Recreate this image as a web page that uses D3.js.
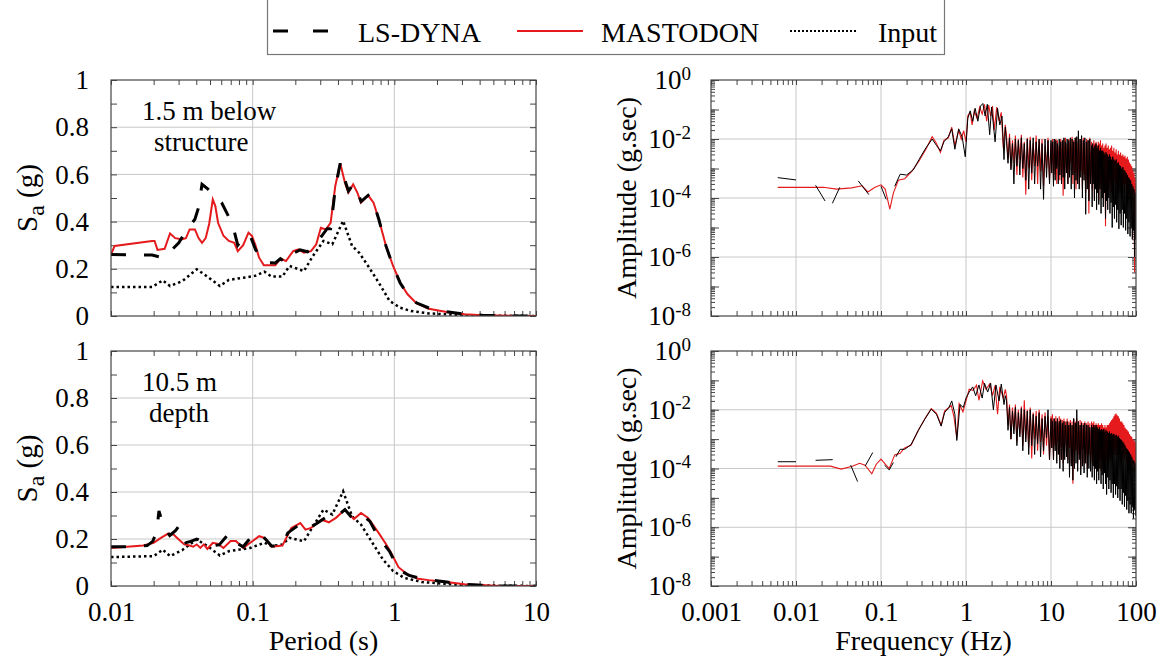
<!DOCTYPE html>
<html><head><meta charset="utf-8">
<script src="https://cdn.jsdelivr.net/npm/d3@7"></script>
<style>
body{margin:0;background:#fff}
svg{display:block}
svg text{font-family:"Liberation Serif","Times New Roman",Times,serif}
</style>
</head><body>
<svg id="c" width="1163" height="662"></svg>
<script>
// ---------- DATA ----------
const seriesNames = ["LS-DYNA", "MASTODON", "Input"];
const periodTicks = [0.01, 0.1, 1, 10];
const periodLabels = ["0.01", "0.1", "1", "10"];
const freqTicks = [0.001, 0.01, 0.1, 1, 10, 100];
const freqLabels = ["0.001", "0.01", "0.1", "1", "10", "100"];
const saTicks = [0, 0.2, 0.4, 0.6, 0.8, 1];
const ampTicks = [1, 1e-2, 1e-4, 1e-6, 1e-8];
const ampExponents = ["0", "-2", "-4", "-6", "-8"];
const periodGrid = [0.1, 1];
const saGrid = [0.2, 0.4, 0.6, 0.8];
const freqGrid = [0.01, 0.1, 1, 10];
const ampGrid = [1e-2, 1e-4, 1e-6];

// Top-left: 1.5 m below structure  [period s, Sa g]
const tlMastodon = [[0.01,0.26],[0.0106,0.297],[0.0195,0.318],[0.0203,0.318],[0.0213,0.28],[0.0239,0.285],[0.0261,0.35],[0.0284,0.33],[0.0301,0.327],[0.0319,0.325],[0.0338,0.33],[0.0359,0.367],[0.0391,0.367],[0.0415,0.33],[0.0439,0.31],[0.0466,0.33],[0.0493,0.39],[0.0523,0.494],[0.0545,0.466],[0.057,0.395],[0.0622,0.34],[0.0679,0.318],[0.0741,0.31],[0.0785,0.275],[0.0857,0.30],[0.0934,0.353],[0.099,0.339],[0.105,0.297],[0.111,0.247],[0.120,0.215],[0.132,0.215],[0.1445,0.215],[0.157,0.243],[0.172,0.233],[0.193,0.275],[0.211,0.282],[0.230,0.268],[0.258,0.275],[0.281,0.304],[0.303,0.374],[0.329,0.367],[0.355,0.395],[0.383,0.551],[0.415,0.647],[0.448,0.565],[0.474,0.523],[0.512,0.558],[0.548,0.523],[0.582,0.48],[0.653,0.511],[0.713,0.48],[0.777,0.41],[0.873,0.297],[0.98,0.212],[1.10,0.141],[1.24,0.092],[1.43,0.054],[1.75,0.031],[2.34,0.017],[3.13,0.007],[4.18,0.003],[7.48,0.0],[10,0.0]];
const tlLsdyna = [[0.01,0.261],[0.0195,0.258],[0.0232,0.247],[0.0268,0.28],[0.0301,0.31],[0.0338,0.36],[0.0391,0.41],[0.0415,0.46],[0.0439,0.558],[0.0479,0.54],[0.0537,0.51],[0.0604,0.48],[0.0719,0.39],[0.0785,0.30],[0.0907,0.345],[0.0962,0.34],[0.105,0.28],[0.125,0.226],[0.1445,0.225],[0.157,0.243],[0.172,0.225],[0.193,0.265],[0.216,0.28],[0.244,0.272],[0.273,0.30],[0.308,0.34],[0.335,0.37],[0.355,0.37],[0.383,0.54],[0.415,0.647],[0.448,0.575],[0.474,0.53],[0.512,0.558],[0.548,0.53],[0.582,0.485],[0.653,0.511],[0.713,0.48],[0.777,0.41],[0.873,0.297],[0.98,0.21],[1.10,0.14],[1.24,0.092],[1.43,0.056],[1.75,0.034],[2.34,0.018],[3.13,0.008],[4.18,0.003],[7.48,0],[10,0]];
const tlInput = [[0.01,0.123],[0.0195,0.123],[0.0232,0.151],[0.0261,0.127],[0.0319,0.148],[0.0403,0.198],[0.0466,0.172],[0.0587,0.127],[0.0679,0.153],[0.0857,0.162],[0.104,0.17],[0.121,0.188],[0.136,0.167],[0.162,0.167],[0.182,0.212],[0.230,0.19],[0.266,0.254],[0.316,0.318],[0.365,0.304],[0.435,0.403],[0.503,0.297],[0.565,0.268],[0.653,0.212],[0.777,0.141],[0.925,0.064],[1.10,0.035],[1.31,0.021],[1.75,0.011],[3.13,0.003],[10,0]];

// Bottom-left: 10.5 m depth
const blMastodon = [[0.01,0.162],[0.0169,0.172],[0.02,0.184],[0.0225,0.205],[0.0253,0.223],[0.0276,0.219],[0.0301,0.198],[0.0329,0.177],[0.0359,0.172],[0.038,0.167],[0.0403,0.177],[0.0427,0.162],[0.0452,0.177],[0.0479,0.158],[0.0523,0.184],[0.057,0.179],[0.0622,0.162],[0.0699,0.191],[0.0762,0.191],[0.0857,0.162],[0.0962,0.184],[0.111,0.212],[0.121,0.205],[0.136,0.167],[0.162,0.172],[0.1875,0.247],[0.217,0.268],[0.236,0.24],[0.258,0.247],[0.307,0.282],[0.345,0.271],[0.387,0.29],[0.448,0.325],[0.518,0.285],[0.582,0.311],[0.653,0.29],[0.777,0.225],[0.87,0.18],[0.95,0.14],[1.07,0.08],[1.24,0.049],[1.47,0.031],[1.75,0.025],[2.34,0.017],[3.13,0.007],[5.6,0.0],[10,0.0]];
const blLsdyna = [[0.01,0.167],[0.013,0.167],[0.018,0.172],[0.0197,0.19],[0.021,0.23],[0.0218,0.32],[0.0235,0.25],[0.026,0.215],[0.0285,0.235],[0.0301,0.255],[0.0318,0.23],[0.0338,0.184],[0.0365,0.19],[0.0403,0.2],[0.0466,0.184],[0.0523,0.172],[0.058,0.175],[0.0679,0.223],[0.0762,0.184],[0.0857,0.167],[0.102,0.223],[0.118,0.212],[0.136,0.17],[0.162,0.172],[0.177,0.226],[0.217,0.264],[0.244,0.243],[0.281,0.265],[0.325,0.29],[0.38,0.29],[0.448,0.325],[0.503,0.29],[0.582,0.307],[0.673,0.275],[0.777,0.205],[0.925,0.148],[1.07,0.07],[1.27,0.045],[1.56,0.031],[2.34,0.017],[3.13,0.007],[5.6,0],[10,0]];
const blInput = [[0.01,0.123],[0.02,0.127],[0.0232,0.155],[0.0261,0.127],[0.0319,0.153],[0.0403,0.198],[0.0479,0.17],[0.0587,0.13],[0.0679,0.148],[0.0962,0.162],[0.121,0.184],[0.136,0.17],[0.162,0.177],[0.182,0.205],[0.230,0.19],[0.258,0.24],[0.316,0.325],[0.365,0.304],[0.435,0.403],[0.503,0.297],[0.582,0.261],[0.70,0.184],[0.83,0.113],[0.98,0.064],[1.17,0.035],[1.56,0.017],[3.13,0.003],[10,0]];

// Fourier amplitude spectra: low-frequency parts [Hz, g.sec] (null = gap)
const trMastodonLow = [[0.0061,2.3e-4],[0.021,2.3e-4],[0.030,2.0e-4],[0.045,2.2e-4],[0.060,2.6e-4],[0.070,1.6e-4],[0.085,2.3e-4],[0.10,2.8e-4],[0.112,2.0e-4],[0.127,4.2e-5],[0.14,1.5e-4],[0.16,4.0e-4],[0.19,4.5e-4],[0.23,8e-4],[0.28,1.8e-3],[0.33,4e-3],[0.40,1.2e-2],[0.45,7e-3],[0.50,3.5e-3],[0.55,9e-3],[0.62,1.1e-2],[0.68,2.5e-2],[0.74,6e-3],[0.82,2.0e-2],[0.88,1.0e-2],[0.94,1.9e-2],[1.0,8e-3],[1.05,6e-2],[1.12,8e-2],[1.18,3e-2],[1.25,9e-2],[1.35,5e-2],[1.45,1.2e-1],[1.55,7e-2],[1.65,1.5e-1],[1.75,4e-2],[1.85,1.4e-1],[1.95,6e-2],[2.05,1.3e-1],[2.15,2e-2],[2.3,1.2e-1],[2.45,4e-2],[2.6,8e-2],[2.75,5e-3],[2.9,3e-2]];
const trLsdynaLow = [[0.0061,4.9e-4],[0.010,4.1e-4],null,[0.017,2.7e-4],[0.022,7.9e-5],null,[0.0268,6.6e-5],[0.0327,2.3e-4],null,[0.054,3.8e-4],[0.072,1.3e-4],null,[0.10,2.5e-4],[0.115,9e-5],null,[0.145,2.5e-4],[0.168,6.4e-4],[0.2,6e-4],[0.24,9e-4],[0.28,2e-3],[0.33,4.5e-3],[0.40,1.0e-2],[0.45,6e-3],[0.50,4e-3],[0.55,8e-3],[0.62,1.2e-2],[0.68,2.2e-2],[0.74,4.5e-3],[0.82,2.2e-2],[0.9,1.2e-2],[0.98,2.5e-3],[1.05,5e-2],[1.12,9e-2],[1.2,4e-2],[1.28,1.1e-1],[1.38,4e-2],[1.48,1.3e-1],[1.58,1.6e-1],[1.68,6e-2],[1.78,1.5e-1],[1.9,1.4e-2],[2.0,1.2e-1],[2.2,8e-3],[2.35,1.1e-1],[2.5,3e-2],[2.65,6e-2],[2.8,2e-3],[2.9,2.5e-2]];
const brMastodonLow = [[0.0061,1.2e-4],[0.0255,1.2e-4],[0.034,9.5e-5],[0.046,1.2e-4],[0.056,1.5e-4],[0.065,1.3e-4],[0.078,6.6e-5],[0.088,1.4e-4],[0.10,2.1e-4],[0.115,1.3e-4],[0.125,1.0e-4],[0.145,2.9e-4],[0.168,3.3e-4],[0.188,4.9e-4],[0.226,6.3e-4],[0.275,2e-3],[0.33,5e-3],[0.39,1.1e-2],[0.45,7.5e-3],[0.51,3e-3],[0.56,9e-3],[0.67,1.4e-2],[0.72,6e-3],[0.78,1.1e-3],[0.83,1.6e-2],[0.92,8.5e-3],[1.0,2e-2],[1.09,5e-2],[1.21,4.6e-2],[1.33,6.8e-2],[1.42,2.1e-2],[1.57,9.6e-2],[1.72,5e-2],[1.91,7.8e-2],[2.05,3e-2],[2.2,6.8e-2],[2.35,7e-3],[2.5,6e-2],[2.75,2.5e-2],[2.9,4.9e-2]];
const brLsdynaLow = [[0.0061,1.7e-4],[0.010,1.7e-4],null,[0.017,1.9e-4],[0.027,2.0e-4],null,[0.044,1.3e-4],[0.053,3.6e-5],null,[0.065,1.2e-4],[0.08,3.5e-4],null,[0.11,1.3e-4],[0.125,9e-5],[0.14,1.6e-4],null,[0.15,2.5e-4],[0.168,4.5e-4],[0.19,4.5e-4],[0.226,6.5e-4],[0.275,2e-3],[0.33,5e-3],[0.39,1.05e-2],[0.45,7e-3],[0.51,2.8e-3],[0.56,8e-3],[0.63,1.2e-2],[0.68,2e-2],[0.74,7e-3],[0.78,9e-4],[0.85,1.5e-2],[0.93,1.2e-2],[1.0,2.5e-2],[1.09,4e-2],[1.2,6e-2],[1.3,3e-2],[1.42,7e-2],[1.55,2.5e-2],[1.65,8e-2],[1.8,4e-2],[1.95,8e-2],[2.1,1e-2],[2.25,7e-2],[2.45,2e-2],[2.6,7.5e-2],[2.8,1.5e-2],[2.9,3e-2]];

// High-frequency (dense) parts: shared frequency list [Hz] and amplitudes [g.sec]
const fasFreqHigh = [
  3.0,3.12,3.25,3.38,3.52,3.66,3.81,3.97,4.13,4.3,4.48,4.66,4.85,5.05,5.26,5.47,5.7,5.93,6.17,6.42,6.69,6.96,7.25,7.54,7.85,8.17,8.51,8.86,9.22,9.6,
  10,10.2,10.4,10.7,10.9,11.2,11.4,11.7,11.9,12.2,12.5,12.7,13,13.3,13.6,13.9,14.2,14.5,14.8,15.2,15.5,15.8,16.2,16.5,16.9,17.3,17.7,18.1,18.5,18.9,19.3,19.7,20.1,20.6,21,21.5,22,22.4,22.9,23.4,24,24.5,25,25.6,26.2,26.7,27.3,27.9,28.6,29.2,
  30,30.5,30.9,31.4,31.9,32.4,32.9,33.4,33.9,34.4,34.9,35.4,36,36.5,37.1,37.6,38.2,38.8,39.4,40,40.6,41.2,41.8,42.5,43.1,43.8,44.4,45.1,45.8,46.5,47.2,47.9,48.7,49.4,50.2,50.9,51.7,52.5,53.3,54.1,54.9,55.8,56.6,57.5,58.4,59.2,60.1,61,62,62.9,63.9,64.9,65.9,66.9,67.9,68.9,70,71,72.1,73.2,74.3,75.5,76.6,77.8,79,80.2,81.4,82.6,83.9,85.2,86.5,87.8,89.1,90.5,91.9,93.3,94.7,96.2,97.6,99.1,100];
const trMastodonHigh = [
  1.2e-2,2e-3,1.5e-2,1e-3,9e-3,1.5e-3,1.3e-2,6e-4,1e-2,2e-3,1.4e-2,5e-4,8e-3,1.3e-4,1.1e-2,1e-3,1.2e-2,4e-4,7e-3,1.2e-3,1.3e-2,3e-4,9e-3,8e-4,1e-2,2.5e-4,6e-3,1e-3,1.1e-2,4e-4,
  7e-3,1.5e-3,1e-2,4e-4,8e-3,6e-4,1e-2,3e-4,9e-3,1.2e-3,6e-3,4e-4,1e-2,7e-4,8e-3,1.2e-4,9e-3,5e-4,1.1e-2,8e-4,7e-3,3e-4,1e-2,6e-4,8e-3,1.5e-3,1.2e-2,3e-4,9e-3,7e-4,1.1e-2,2e-4,8e-3,5e-4,1.2e-2,3e-4,1e-2,8e-4,9e-3,2e-4,1.1e-2,6e-4,8e-3,1.5e-4,1e-2,4e-4,9e-3,3e-5,1.1e-2,5e-4,
  8e-3,2e-4,6e-3,5e-4,9e-3,1e-4,7e-3,3e-4,8e-3,1.5e-4,6e-3,4e-4,8e-3,8e-5,7e-3,3e-4,9e-3,2e-4,6e-3,1e-4,7e-3,4e-4,5e-3,1.5e-4,6e-3,1.1e-5,7e-3,3e-4,5e-3,1e-4,6e-3,2e-4,4.5e-3,4e-4,5e-3,1.5e-4,6e-3,3e-4,4e-3,2e-4,5e-3,4e-4,3.5e-3,1.5e-4,4.5e-3,3e-4,3e-3,2e-4,4e-3,5e-4,3e-3,1.5e-4,3.5e-3,4e-4,2.7e-3,2e-4,3e-3,3e-4,2.5e-3,1.5e-4,2.7e-3,3e-4,2.2e-3,2e-4,2.5e-3,1e-4,2e-3,3e-4,1.6e-3,1.5e-4,1.4e-3,2e-4,1.2e-3,8e-5,9e-4,1.5e-4,7e-4,3e-7,5e-4,1e-4,3e-4];
const trLsdynaHigh = [
  8e-3,1.5e-3,1.1e-2,9e-4,7e-3,3e-4,1e-2,1.2e-3,9e-3,6e-4,1.1e-2,1e-3,7e-3,4e-4,1e-2,2e-4,9e-3,7e-4,1.1e-2,3e-4,8e-3,1.2e-3,1e-2,2e-4,7e-3,9e-5,1e-2,5e-4,9e-3,3e-4,
  9e-3,7e-4,8e-3,2.5e-4,1e-2,4e-4,9e-3,1e-3,7e-3,3e-4,1e-2,6e-4,8e-3,3e-4,9e-3,5e-4,1.1e-2,2e-4,8e-3,7e-4,1e-2,3e-4,9e-3,5e-4,1.1e-2,2e-4,1e-2,6e-4,8e-3,1e-4,1.1e-2,4e-4,1.2e-2,3e-4,1.9e-2,2e-4,1e-2,5e-4,1.3e-2,1e-4,9e-3,4e-4,1.1e-2,2.8e-5,8e-3,2e-4,9e-3,8e-5,1e-2,3e-4,
  6e-3,5e-5,7e-3,3e-4,5e-3,8e-5,6e-3,2e-4,7e-3,4e-5,5e-3,1.5e-4,6e-3,6e-5,4e-3,2e-4,5e-3,3e-5,4e-3,1e-4,4e-3,5e-5,3.5e-3,1.5e-4,3e-3,2e-5,3.5e-3,8e-5,3e-3,4e-5,2.5e-3,1e-4,3e-3,3e-5,2.5e-3,7e-5,2e-3,1e-5,2.5e-3,5e-5,2e-3,2e-5,1.8e-3,6e-5,2e-3,1.5e-5,1.5e-3,4e-5,1.6e-3,9e-6,1.3e-3,3e-5,1.2e-3,1.2e-5,1e-3,4e-5,1.1e-3,1e-5,9e-4,3e-5,8e-4,8e-6,7e-4,2e-5,6e-4,6e-6,5e-4,1.5e-5,4.5e-4,5e-6,4e-4,1e-5,3e-4,4e-6,2.5e-4,8e-6,2e-4,1e-6,1.5e-4,4e-6,1e-4];
const brMastodonHigh = [
  3e-2,3e-3,1.5e-2,1e-3,1.2e-2,2e-3,1.5e-2,8e-4,1e-2,1.5e-3,1.3e-2,6e-4,2.1e-2,1e-3,1e-2,5e-4,1.2e-2,2.2e-4,8e-3,1e-3,9e-3,4e-4,1e-2,8e-4,7e-3,3e-4,8e-3,6e-4,6e-3,2e-4,
  6e-3,5e-4,7e-3,2e-4,5e-3,6e-4,6e-3,3e-4,5e-3,8e-4,6e-3,2e-4,5e-3,5e-4,4.5e-3,1.5e-4,5e-3,4e-4,4e-3,6e-4,5e-3,2e-4,4e-3,5e-4,4.5e-3,1.5e-4,4e-3,3e-5,5e-3,3e-4,4e-3,4e-4,5e-3,1.5e-4,4e-3,3e-4,4.5e-3,1e-4,4e-3,4e-4,3.5e-3,1.5e-4,4e-3,3e-4,3.5e-3,1e-4,4e-3,3e-4,3.5e-3,2e-4,
  4e-3,1.5e-4,3.5e-3,3e-4,4e-3,1e-4,3e-3,4e-4,3.5e-3,1.2e-4,3e-3,3e-4,3.5e-3,1e-4,3e-3,2e-4,3e-3,8e-5,3.5e-3,2e-4,3e-3,1e-4,2.5e-3,3e-4,3e-3,1.2e-4,2.5e-3,2e-4,3e-3,1e-4,3e-3,2e-4,3.5e-3,3e-4,4e-3,2e-4,4.5e-3,4e-4,5e-3,3e-4,6e-3,4e-4,7e-3,3e-4,7.5e-3,5e-4,6.5e-3,3e-4,6e-3,4e-4,5e-3,3e-4,4e-3,5e-4,4e-3,2e-4,3.5e-3,3e-4,3e-3,2e-4,2.5e-3,3e-4,2.2e-3,1.5e-4,2e-3,3e-4,1.8e-3,2e-4,1.5e-3,1e-4,1.3e-3,2e-4,1.2e-3,1e-4,1e-3,1.5e-4,9e-4,8e-5,8e-4,1e-4,6e-4];
const brLsdynaHigh = [
  2e-2,2e-3,1.2e-2,1e-3,9e-3,1.5e-3,1.2e-2,6e-4,8e-3,1.2e-3,1.1e-2,4e-4,1e-2,8e-4,9e-3,3e-4,1e-2,6e-4,7e-3,3e-4,6e-3,7e-4,8e-3,2.5e-4,5e-3,4e-4,6e-3,1.1e-3,1e-2,2e-4,
  5e-3,5e-4,4e-3,2e-4,5e-3,4e-4,4e-3,1.5e-4,5e-3,3e-4,4e-3,1e-4,4.5e-3,2e-4,3.5e-3,8e-5,4e-3,2e-4,3e-3,2.5e-4,4e-3,1.5e-4,3e-3,5e-5,3.5e-3,1.2e-4,3e-3,4e-5,5e-3,1e-4,3.5e-3,1.5e-4,1e-2,8e-5,4e-3,2e-4,3e-3,6e-5,3.5e-3,1.2e-4,3e-3,7e-5,3.5e-3,1.5e-4,3e-3,5e-5,3e-3,1e-4,2.5e-3,8e-5,
  3e-3,5e-5,2.5e-3,1.2e-4,3e-3,4e-5,2.5e-3,1e-4,3e-3,3e-5,2.5e-3,8e-5,2.2e-3,4e-5,2.5e-3,1e-4,2e-3,3e-5,2.2e-3,6e-5,2e-3,2e-5,2.2e-3,7e-5,1.8e-3,3e-5,2e-3,1.3e-5,1.8e-3,5e-5,1.6e-3,2e-5,1.8e-3,4e-5,1.5e-3,1.5e-5,1.6e-3,3e-5,1.4e-3,1e-5,1.5e-3,3e-5,1.3e-3,1.3e-5,1.4e-3,2.5e-5,1.2e-3,1e-5,1.3e-3,2e-5,1.1e-3,8e-6,1e-3,2e-5,9e-4,6e-6,8e-4,1.5e-5,7e-4,5e-6,6e-4,1.2e-5,5e-4,4e-6,4.5e-4,8e-6,4e-4,3e-6,3.5e-4,6e-6,3e-4,3e-6,2.5e-4,5e-6,2e-4,2e-6,1.8e-4,4e-6,1.5e-4,2.5e-6,1.2e-4];

// ---------- DRAW ----------
const FONT = "'Liberation Serif','Times New Roman',Times,serif";
const RED = "#e41a1c", GRID = "#c8c8c8", FRAME = "#444";
const svg = d3.select("#c").attr("font-family", FONT);
const defs = svg.append("defs");

function styleAxis(g, size) {
  g.select(".domain").remove();
  g.attr("font-family", FONT).attr("font-size", size || 27);
  g.selectAll(".tick line").attr("stroke", FRAME);
  g.selectAll(".tick text").attr("fill", "#000");
}
function frame(g, x0, x1, y0, y1) {
  g.append("rect").attr("x", x0).attr("y", y0).attr("width", x1 - x0).attr("height", y1 - y0)
    .attr("fill", "none").attr("stroke", FRAME).attr("stroke-width", 1.2);
}
function addClip(id, x0, x1, y0, y1) {
  defs.append("clipPath").attr("id", id).append("rect")
    .attr("x", x0).attr("y", y0).attr("width", x1 - x0).attr("height", y1 - y0);
}
function zipHigh(freqs, amps) {
  const n = Math.min(freqs.length, amps.length);
  return d3.range(n).map(i => [freqs[i], amps[i]]);
}

function leftPanel(id, y0, y1, showX, mast, lsd, inp, ann) {
  const x = d3.scaleLog().domain([0.01, 10]).range([111, 536]);
  const y = d3.scaleLinear().domain([0, 1]).range([y1, y0]);
  const g = svg.append("g");
  addClip(id, 111, 536, y0 - 2, y1);
  g.selectAll(null).data(periodGrid).join("line")
    .attr("x1", d => x(d)).attr("x2", d => x(d)).attr("y1", y0).attr("y2", y1).attr("stroke", GRID);
  g.selectAll(null).data(saGrid).join("line")
    .attr("x1", 111).attr("x2", 536).attr("y1", d => y(d)).attr("y2", d => y(d)).attr("stroke", GRID);

  g.append("g").attr("transform", `translate(0,${y1})`)
    .call(d3.axisBottom(x).tickValues(x.ticks()).tickSize(-5).tickFormat(""))
    .call(a => styleAxis(a));
  g.append("g").attr("transform", `translate(0,${y0})`)
    .call(d3.axisTop(x).tickValues(x.ticks()).tickSize(-5).tickFormat(""))
    .call(a => styleAxis(a));
  if (showX) {
    g.append("g").attr("transform", `translate(0,${y1})`)
      .call(d3.axisBottom(x).tickValues(periodTicks).tickSize(0).tickPadding(16).tickFormat((d, i) => periodLabels[i]))
      .call(a => styleAxis(a));
  }
  g.append("g").attr("transform", "translate(111,0)")
    .call(d3.axisLeft(y).ticks(10).tickSize(-6).tickFormat(""))
    .call(a => styleAxis(a));
  g.append("g").attr("transform", "translate(536,0)")
    .call(d3.axisRight(y).ticks(10).tickSize(-6).tickFormat(""))
    .call(a => styleAxis(a));
  g.append("g").attr("transform", "translate(111,0)")
    .call(d3.axisLeft(y).tickValues(saTicks).tickSize(0).tickPadding(22).tickFormat(d3.format("~g")))
    .call(a => styleAxis(a));

  const line = d3.line().x(d => x(d[0])).y(d => y(d[1]));
  const pg = g.append("g").attr("clip-path", `url(#${id})`);
  pg.append("path").datum(inp).attr("d", line).attr("fill", "none").attr("stroke", "#000")
    .attr("stroke-width", 2.5).attr("stroke-dasharray", "2.5,3");
  pg.append("path").datum(mast).attr("d", line).attr("fill", "none").attr("stroke", RED)
    .attr("stroke-width", 2);
  pg.append("path").datum(lsd).attr("d", line).attr("fill", "none").attr("stroke", "#000")
    .attr("stroke-width", 3).attr("stroke-dasharray", "15,18");
  frame(g, 111, 536, y0, y1);

  ann.forEach(a => g.append("text").attr("x", a[0]).attr("y", a[1]).attr("font-size", 27).text(a[2]));

  const t = g.append("text").attr("transform", `translate(37,${(y0 + y1) / 2}) rotate(-90)`)
    .attr("text-anchor", "middle").attr("font-size", 29);
  t.append("tspan").text("S");
  t.append("tspan").attr("dy", 7).attr("font-size", 24).text("a");
  t.append("tspan").attr("dy", -7).text(" (g)");
}

function rightPanel(id, y0, y1, showX, mastLow, mastHigh, lsdLow, lsdHigh) {
  const x = d3.scaleLog().domain([0.001, 100]).range([711, 1136]);
  const y = d3.scaleLog().domain([1e-8, 1]).range([y1, y0]);
  const g = svg.append("g");
  addClip(id, 711, 1136, y0, y1);
  g.selectAll(null).data(freqGrid).join("line")
    .attr("x1", d => x(d)).attr("x2", d => x(d)).attr("y1", y0).attr("y2", y1).attr("stroke", GRID);
  g.selectAll(null).data(ampGrid).join("line")
    .attr("x1", 711).attr("x2", 1136).attr("y1", d => y(d)).attr("y2", d => y(d)).attr("stroke", GRID);

  g.append("g").attr("transform", `translate(0,${y1})`)
    .call(d3.axisBottom(x).tickValues(x.ticks()).tickSize(-5).tickFormat("")).call(a => styleAxis(a));
  g.append("g").attr("transform", `translate(0,${y0})`)
    .call(d3.axisTop(x).tickValues(x.ticks()).tickSize(-5).tickFormat("")).call(a => styleAxis(a));
  if (showX) {
    g.append("g").attr("transform", `translate(0,${y1})`)
      .call(d3.axisBottom(x).tickValues(freqTicks).tickSize(0).tickPadding(16).tickFormat((d, i) => freqLabels[i]))
      .call(a => styleAxis(a));
  }
  const decades = y.ticks().filter(d => Math.abs(Math.log10(d) - Math.round(Math.log10(d))) < 1e-9);
  g.append("g").attr("transform", "translate(711,0)")
    .call(d3.axisLeft(y).tickValues(y.ticks()).tickSize(-4).tickFormat("")).call(a => styleAxis(a));
  g.append("g").attr("transform", "translate(1136,0)")
    .call(d3.axisRight(y).tickValues(y.ticks()).tickSize(-4).tickFormat("")).call(a => styleAxis(a));
  g.append("g").attr("transform", "translate(711,0)")
    .call(d3.axisLeft(y).tickValues(decades).tickSize(-8).tickFormat("")).call(a => styleAxis(a));
  g.append("g").attr("transform", "translate(1136,0)")
    .call(d3.axisRight(y).tickValues(decades).tickSize(-8).tickFormat("")).call(a => styleAxis(a));
  const lab = g.append("g").attr("transform", "translate(711,0)")
    .call(d3.axisLeft(y).tickValues(ampTicks).tickSize(0).tickPadding(20).tickFormat(""))
    .call(a => styleAxis(a));
  lab.selectAll(".tick text").each(function (d, i) {
    const t = d3.select(this);
    t.append("tspan").text("10");
    t.append("tspan").attr("dy", "-0.5em").attr("font-size", 19).text(ampExponents[i]);
  });

  const line = d3.line().defined(d => d != null).x(d => x(d[0])).y(d => y(d[1]));
  const pg = g.append("g").attr("clip-path", `url(#${id})`);
  const mast = mastLow.concat(zipHigh(fasFreqHigh, mastHigh));
  const lsd = lsdLow.concat(zipHigh(fasFreqHigh, lsdHigh));
  pg.append("path").datum(mast).attr("d", line).attr("fill", "none").attr("stroke", RED).attr("stroke-width", 1.1);
  pg.append("path").datum(lsd).attr("d", line).attr("fill", "none").attr("stroke", "#000").attr("stroke-width", 1);
  frame(g, 711, 1136, y0, y1);

  g.append("text").attr("transform", `translate(636,${(y0 + y1) / 2}) rotate(-90)`)
    .attr("text-anchor", "middle").attr("font-size", 28).text("Amplitude (g.sec)");
}

leftPanel("cTL", 80, 316, false, tlMastodon, tlLsdyna, tlInput,
  [[142, 120, "1.5 m below"], [154, 151, "structure"]]);
leftPanel("cBL", 351, 586, true, blMastodon, blLsdyna, blInput,
  [[142, 391, "10.5 m"], [149, 422, "depth"]]);
rightPanel("cTR", 80, 316, false, trMastodonLow, trMastodonHigh, trLsdynaLow, trLsdynaHigh);
rightPanel("cBR", 351, 586, true, brMastodonLow, brMastodonHigh, brLsdynaLow, brLsdynaHigh);

svg.append("text").attr("x", 323.5).attr("y", 650).attr("text-anchor", "middle").attr("font-size", 28).text("Period (s)");
svg.append("text").attr("x", 923.5).attr("y", 650).attr("text-anchor", "middle").attr("font-size", 28).text("Frequency (Hz)");

// Legend
const lg = svg.append("g");
lg.append("rect").attr("x", 267.5).attr("y", -1).attr("width", 677).attr("height", 55.5)
  .attr("fill", "#fff").attr("stroke", "#777").attr("stroke-width", 1.2);
const legendItems = [
  {name: seriesNames[0], x1: 273, x2: 328, tx: 358, stroke: "#000", w: 3, dash: "15,25"},
  {name: seriesNames[1], x1: 517, x2: 583, tx: 601, stroke: RED, w: 2, dash: null},
  {name: seriesNames[2], x1: 790, x2: 858, tx: 878, stroke: "#000", w: 2, dash: "2,2"}
];
legendItems.forEach(it => {
  lg.append("line").attr("x1", it.x1).attr("x2", it.x2).attr("y1", 31).attr("y2", 31)
    .attr("stroke", it.stroke).attr("stroke-width", it.w).attr("stroke-dasharray", it.dash);
  lg.append("text").attr("x", it.tx).attr("y", 41.5).attr("font-size", 28).text(it.name);
});
</script>
</body></html>
